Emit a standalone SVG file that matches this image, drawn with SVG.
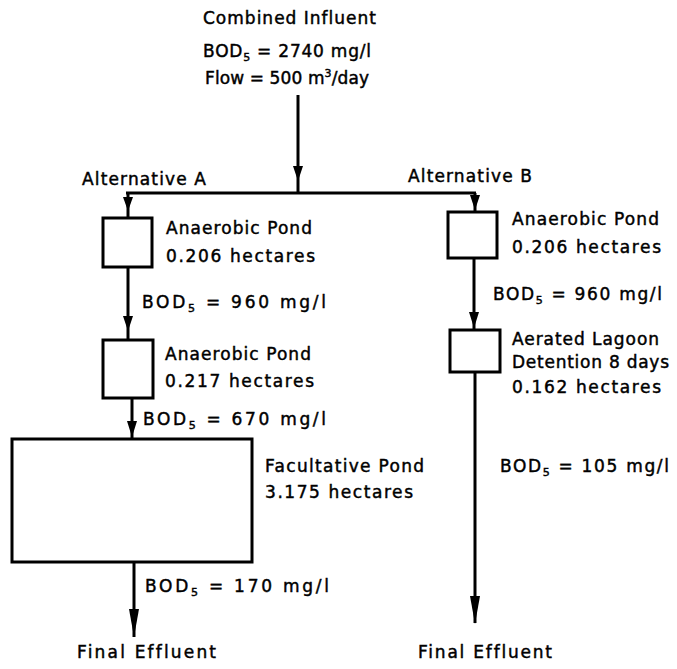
<svg xmlns="http://www.w3.org/2000/svg" width="677" height="669" viewBox="0 0 677 669">
<style>
text{font-family:"DejaVu Sans","Liberation Sans",sans-serif;font-size:17px;letter-spacing:1px;fill:#000;stroke:#000;stroke-width:0.45}
.sub{font-size:11px}
.box{fill:#fff;stroke:#000;stroke-width:3}
.ln{stroke:#000;stroke-width:3;fill:none}
.ah{fill:#000}
</style>
<rect width="677" height="669" fill="#fff"/>
<g id="connectors">
<line class="ln" x1="298" y1="95" x2="298" y2="194"/>
<polygon class="ah" points="293,166 303,166 298,181"/>
<line class="ln" x1="126" y1="193" x2="476" y2="193"/>
<line class="ln" x1="128" y1="193" x2="128" y2="218"/>
<polygon class="ah" points="123,197 133,197 128,211"/>
<line class="ln" x1="128" y1="267" x2="128" y2="340"/>
<polygon class="ah" points="123,316 133,316 128,331"/>
<line class="ln" x1="132" y1="398" x2="132" y2="439"/>
<polygon class="ah" points="127,421 137,421 132,437"/>
<line class="ln" x1="134" y1="562" x2="134" y2="637"/>
<polygon class="ah" points="129,609 139,609 134,637"/>
<line class="ln" x1="475" y1="193" x2="475" y2="212"/>
<polygon class="ah" points="470,195 480,195 475,210"/>
<line class="ln" x1="474" y1="258" x2="474" y2="330"/>
<polygon class="ah" points="469,312 479,312 474,328"/>
<line class="ln" x1="475" y1="372" x2="475" y2="623"/>
<polygon class="ah" points="470,596 480,596 475,624"/>
</g>
<g id="influent">
<text x="203" y="24" textLength="174">Combined Influent</text>
<text x="203" y="57" textLength="169">BOD<tspan class="sub" dy="4">5</tspan><tspan dy="-4"> = 2740 mg/l</tspan></text>
<text x="205" y="84" textLength="165">Flow = 500 m<tspan class="sub" dy="-7">3</tspan><tspan dy="7">/day</tspan></text>
</g>
<g id="label-alt-a"><text x="82" y="185" textLength="125">Alternative A</text></g>
<g id="label-alt-b"><text x="408" y="182" textLength="125">Alternative B</text></g>
<g id="a-anaerobic-1">
<rect class="box" x="103" y="218" width="49" height="49"/>
<text x="166" y="234" textLength="147">Anaerobic Pond</text>
<text x="166" y="262" textLength="150">0.206 hectares</text>
</g>
<g id="a-bod-960"><text x="142" y="308" textLength="185">BOD<tspan class="sub" dy="4">5</tspan><tspan dy="-4"> = 960 mg/l</tspan></text></g>
<g id="a-anaerobic-2">
<rect class="box" x="103" y="340" width="50" height="58"/>
<text x="165" y="360" textLength="147">Anaerobic Pond</text>
<text x="165" y="387" textLength="150">0.217 hectares</text>
</g>
<g id="a-bod-670"><text x="143" y="425" textLength="184">BOD<tspan class="sub" dy="4">5</tspan><tspan dy="-4"> = 670 mg/l</tspan></text></g>
<g id="a-facultative">
<rect class="box" x="12" y="439" width="240" height="123"/>
<text x="265" y="472" textLength="160">Facultative Pond</text>
<text x="265" y="498" textLength="149">3.175 hectares</text>
</g>
<g id="a-bod-170"><text x="145" y="592" textLength="185">BOD<tspan class="sub" dy="4">5</tspan><tspan dy="-4"> = 170 mg/l</tspan></text></g>
<g id="a-effluent"><text x="77" y="658" textLength="140">Final Effluent</text></g>
<g id="b-anaerobic">
<rect class="box" x="448" y="212" width="49" height="46"/>
<text x="512" y="225" textLength="148">Anaerobic Pond</text>
<text x="512" y="253" textLength="150">0.206 hectares</text>
</g>
<g id="b-bod-960"><text x="493" y="300" textLength="170">BOD<tspan class="sub" dy="4">5</tspan><tspan dy="-4"> = 960 mg/l</tspan></text></g>
<g id="b-aerated">
<rect class="box" x="450" y="330" width="50" height="42"/>
<text x="512" y="345" textLength="148">Aerated Lagoon</text>
<text x="512" y="368" textLength="158">Detention 8 days</text>
<text x="512" y="393" textLength="150">0.162 hectares</text>
</g>
<g id="b-bod-105"><text x="500" y="472" textLength="170">BOD<tspan class="sub" dy="4">5</tspan><tspan dy="-4"> = 105 mg/l</tspan></text></g>
<g id="b-effluent"><text x="418" y="658" textLength="135">Final Effluent</text></g>
</svg>
